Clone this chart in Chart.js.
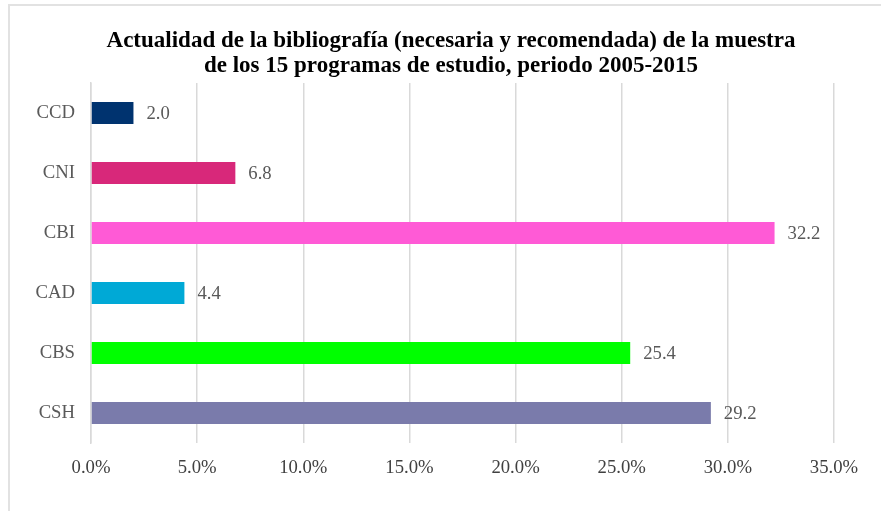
<!DOCTYPE html>
<html lang="es">
<head>
    <meta charset="UTF-8">
    <title>Actualidad de la bibliografía</title>
    <script src="https://cdn.jsdelivr.net/npm/chart.js"></script>
    <style>
        html, body {
            margin: 0;
            padding: 0;
            background: #fff;
        }
        .wrap {
            position: relative;
            width: 881px;
            height: 511px;
            overflow: hidden;
        }
        /* marco del gráfico (solo se ve arriba y a la izquierda) */
        .frame {
            position: absolute;
            left: 8px;
            top: 4px;
            width: 900px;
            height: 540px;
            border: 2px solid #e2e2e2;
            box-sizing: border-box;
        }
        canvas {
            position: absolute;
            left: 0;
            top: 0;
        }
    </style>
</head>
<body>
<div class="wrap">
    <div class="frame"></div>
    <canvas id="grafico" width="881" height="511"></canvas>
</div>

<script>
    // Datos del gráfico
    var areas = ['CCD', 'CNI', 'CBI', 'CAD', 'CBS', 'CSH'];
    var porcentajes = [2.0, 6.8, 32.2, 4.4, 25.4, 29.2];
    var colores = ['#00336f', '#d8287a', '#ff5ad6', '#00a9d6', '#00ff00', '#7a7bab'];
    var titulo = [
        'Actualidad de la bibliografía (necesaria y recomendada) de la muestra',
        'de los 15 programas de estudio, periodo 2005-2015'
    ];

    var fuente = "'Liberation Serif', 'Times New Roman', serif";

    // Título en dos líneas, centrado como en el original
    var tituloGrafico = {
        id: 'tituloGrafico',
        afterDraw: function (chart) {
            var ctx = chart.ctx;
            ctx.save();
            ctx.font = 'bold 23px ' + fuente;
            ctx.fillStyle = '#000';
            ctx.textAlign = 'center';
            ctx.textBaseline = 'alphabetic';
            titulo.forEach(function (linea, i) {
                ctx.fillText(linea, 451, 47 + i * 25);
            });
            ctx.restore();
        }
    };

    // Etiquetas de valor al final de cada barra
    var etiquetasValor = {
        id: 'etiquetasValor',
        afterDatasetsDraw: function (chart) {
            var ctx = chart.ctx;
            var meta = chart.getDatasetMeta(0);
            ctx.save();
            ctx.font = '18.7px ' + fuente;
            ctx.fillStyle = '#595959';
            ctx.textAlign = 'left';
            ctx.textBaseline = 'middle';
            meta.data.forEach(function (bar, i) {
                ctx.fillText(porcentajes[i].toFixed(1), bar.x + 13, bar.y + 1);
            });
            ctx.restore();
        }
    };

    var ctx = document.getElementById('grafico').getContext('2d');
    var grafico = new Chart(ctx, {
        type: 'bar',
        data: {
            labels: areas,
            datasets: [{
                data: porcentajes,
                backgroundColor: colores,
                barPercentage: 0.367,
                categoryPercentage: 1
            }]
        },
        options: {
            indexAxis: 'y',
            responsive: false,
            animation: false,
            layout: {
                padding: { left: 0, right: 47, top: 83, bottom: 18 }
            },
            plugins: {
                legend: { display: false },
                tooltip: { enabled: false },
                title: { display: false }
            },
            scales: {
                x: {
                    min: 0,
                    max: 35,
                    ticks: {
                        stepSize: 5,
                        color: '#404040',
                        font: { family: fuente, size: 18.7 },
                        padding: 14,
                        maxRotation: 0,
                        callback: function (v) { return v.toFixed(1) + '%'; }
                    },
                    grid: { color: '#d9d9d9', lineWidth: 1.5, drawTicks: false },
                    border: { display: false },
                    afterFit: function (scale) { scale.height = 50; }
                },
                y: {
                    ticks: {
                        color: '#595959',
                        font: { family: fuente, size: 18.7 },
                        padding: 16
                    },
                    grid: { display: false, drawTicks: false },
                    border: { display: true, color: '#d9d9d9', width: 1.5 },
                    afterFit: function (scale) { scale.width = 91; }
                }
            }
        },
        plugins: [tituloGrafico, etiquetasValor]
    });
</script>
</body>
</html>
